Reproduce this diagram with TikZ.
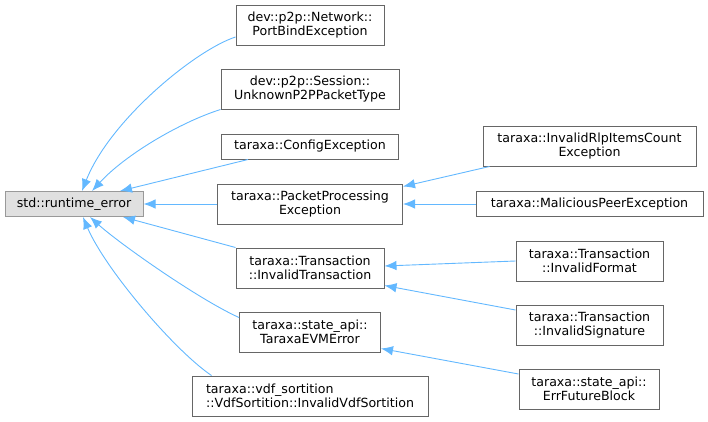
\documentclass[tikz,border=0pt]{standalone}
\usepackage{fontspec}
\setmainfont{DejaVu Sans}
\usetikzlibrary{arrows.meta}
\definecolor{edgeblue}{HTML}{63B8FF}
\definecolor{boxgray}{HTML}{666666}
\definecolor{rootgray}{HTML}{999999}
\definecolor{rootfill}{HTML}{E0E0E0}

\begin{document}
\begin{tikzpicture}[
  x=1pt, y=-1pt,
  font=\fontsize{12.6}{14.5}\selectfont,
  cls/.style={draw=boxgray, line width=1pt, fill=white, align=center, inner sep=2pt, minimum height=25pt},
  tall/.style={cls, minimum height=40pt},
  root/.style={cls, draw=rootgray, fill=rootfill},
  arr/.style={-{Latex[length=12pt,width=9.5pt]}, draw=edgeblue, line width=0.9pt}
]
\useasboundingbox (0,0) rectangle (708,421);

% --- base class ---
\node[root, minimum width=138pt] (rte) at (74,204) {std::runtime\_error};

% --- direct subclasses ---
\node[tall, minimum width=148pt] (pbe) at (310,25) {dev::p2p::Network::\\PortBindException};
\node[tall, minimum width=178pt] (upt) at (310,89) {dev::p2p::Session::\\UnknownP2PPacketType};
\node[cls, minimum width=177pt] (cfg) at (310,146.5) {taraxa::ConfigException};
\node[tall, minimum width=185pt] (ppe) at (310,204) {taraxa::PacketProcessing\\Exception};
\node[tall, minimum width=148pt] (itx) at (310,268) {taraxa::Transaction\\::InvalidTransaction};
\node[tall, minimum width=141pt] (evm) at (310,332) {taraxa::state\_api::\\TaraxaEVMError};
\node[tall, minimum width=236pt, align=left] (vdf) at (310,396) {taraxa::vdf\_sortition\\::VdfSortition::InvalidVdfSortition};

% --- second level ---
\node[tall, minimum width=213pt] (rlp) at (589.5,146) {taraxa::InvalidRlpItemsCount\\Exception};
\node[cls, minimum width=227pt] (mpe) at (589.5,204) {taraxa::MaliciousPeerException};
\node[tall, minimum width=147pt] (ifm) at (589.5,261) {taraxa::Transaction\\::InvalidFormat};
\node[tall, minimum width=147pt] (isg) at (589.5,325) {taraxa::Transaction\\::InvalidSignature};
\node[tall, minimum width=140pt] (efb) at (589,389) {taraxa::state\_api::\\ErrFutureBlock};

% --- inheritance edges to std::runtime_error ---
\draw[arr] ([yshift=-12pt]pbe.west) .. controls +(-40,13) and +(28,-71) .. ([xshift=8pt]rte.north);
\draw[arr] (upt.south west) .. controls +(-41,13) and +(33,-36) .. ([xshift=18pt]rte.north);
\draw[arr] ([xshift=27pt]cfg.south west) -- ([xshift=46pt]rte.north);
\draw[arr] (ppe.west) -- (rte.east);
\draw[arr] (itx.north west) -- ([xshift=49pt]rte.south);
\draw[arr] ([yshift=-6pt]evm.north west) .. controls +(-40,-18) and +(30,27) .. ([xshift=16pt]rte.south);
\draw[arr] ([xshift=20pt]vdf.north west) .. controls +(-37,-25) and +(22,52) .. ([xshift=9pt]rte.south);

% --- second level edges ---
\draw[arr] ([xshift=7pt]rlp.south west) -- ([yshift=-3pt]ppe.north east);
\draw[arr] (mpe.west) -- (ppe.east);
\draw[arr] (ifm.west) -- ([yshift=2pt]itx.east);
\draw[arr] ([yshift=15pt]isg.west) -- ([yshift=3pt]itx.south east);
\draw[arr] ([yshift=15pt]efb.west) -- ([yshift=4pt]evm.south east);

\end{tikzpicture}
\end{document}
